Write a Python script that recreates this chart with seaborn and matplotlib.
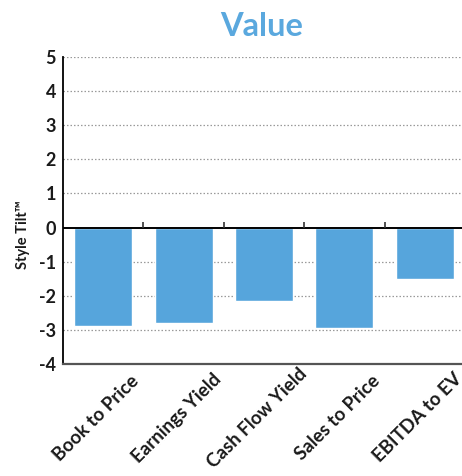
import matplotlib
matplotlib.use("Agg")
import matplotlib.pyplot as plt
import matplotlib.transforms as mtransforms
import numpy as np
import pandas as pd
import seaborn as sns

categories = ["Book to Price", "Earnings Yield", "Cash Flow Yield", "Sales to Price", "EBITDA to EV"]
tilt = [-2.89, -2.80, -2.15, -2.94, -1.51]
y_ticks = [5, 4, 3, 2, 1, 0, -1, -2, -3, -4]

BLUE = "#56A5DC"

sns.set_theme(style="white")
plt.rcParams["font.family"] = ["Lato", "DejaVu Sans"]

df = pd.DataFrame({"factor": categories, "tilt": tilt})

fig = plt.figure(figsize=(4.62, 4.76), dpi=100)
ax = fig.add_axes([63 / 462, 1 - 364 / 476, 402 / 462, (364 - 57) / 476])

sns.barplot(data=df, x="factor", y="tilt", color=BLUE, saturation=1,
            width=0.72, ax=ax, zorder=3)

ax.set_xlim(-0.5, len(categories) - 0.5)
ax.set_ylim(min(y_ticks), max(y_ticks))
ax.set_yticks(y_ticks)
ax.set_yticklabels([str(v) for v in y_ticks], fontsize=13, fontweight="bold", color="#1a1a1a")
ax.tick_params(axis="y", length=0, pad=5)
ax.tick_params(axis="x", length=0, pad=0)

# dotted horizontal gridlines
for v in y_ticks:
    if v != 0:
        ax.axhline(v, color="#9a9a9a", lw=0.9, ls=(0, (1.2, 1.6)), zorder=1)
ax.axhline(0, color="black", lw=1.4, zorder=4)

# category divider ticks on the zero line
bounds = np.arange(len(categories) - 1) + 0.5
ax.vlines(bounds, 0, 0.17, color="#333333", lw=1.2, zorder=4)

for side in ["top", "right"]:
    ax.spines[side].set_visible(False)
ax.spines["left"].set_color("black")
ax.spines["left"].set_linewidth(1.3)
ax.spines["bottom"].set_color("#555555")
ax.spines["bottom"].set_linewidth(1.6)

ax.set_xlabel("")
ax.set_ylabel("Style Tilt™", fontsize=10.5, fontweight="bold", color="#1a1a1a")
ax.yaxis.set_label_coords(-0.082, 0.423)

# rotated category labels, centred a little below the axis
offset = mtransforms.ScaledTranslation(-7 / 100, -54 / 100, fig.dpi_scale_trans)
ax.set_xticks(range(len(categories)))
labels = ax.set_xticklabels(categories, rotation=45, ha="center", va="center",
                            rotation_mode="anchor", fontsize=13.5, fontweight="bold",
                            color="#1a1a1a")
for lab in labels:
    lab.set_transform(lab.get_transform() + offset)

fig.text(262 / 462, 1 - 27 / 476, "Value", ha="center", va="center",
         fontsize=23.5, fontweight="bold", color="#5AA8DE")

fig.savefig("out.png", dpi=100)
